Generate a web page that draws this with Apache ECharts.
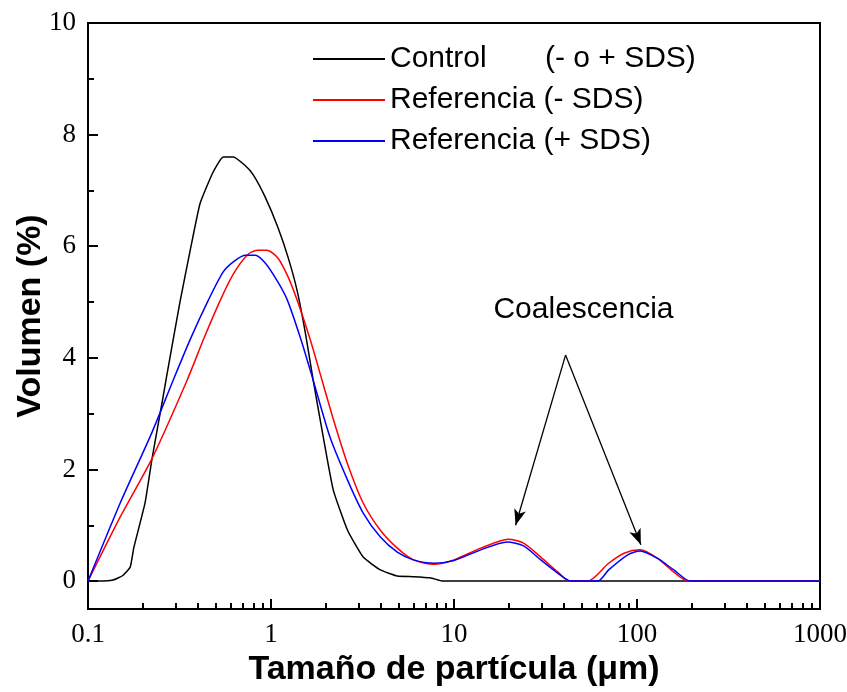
<!DOCTYPE html>
<html><head><meta charset="utf-8">
<script src="https://cdn.jsdelivr.net/npm/echarts@6/dist/echarts.min.js"></script>
<style>html,body{margin:0;padding:0;background:#fff}#c{width:847px;height:692px}</style>
</head><body><div id="c"></div><script>
// ---- Data ----
const controlX = [0.1, 0.116, 0.137, 0.155, 0.17, 0.178, 0.205, 0.224, 0.254, 0.27, 0.318, 0.362, 0.41, 0.483, 0.548, 0.622, 0.72, 0.8, 0.93, 1.09, 1.24, 1.39, 1.55, 1.7, 1.95, 2.19, 2.62, 3.19, 3.96, 4.9, 6.0, 7.4, 8.7, 1000];
const controlY = [0, 0, 0.02, 0.1, 0.25, 0.6, 1.4, 2.2, 3.2, 3.7, 5.0, 5.93, 6.77, 7.33, 7.6, 7.6, 7.45, 7.28, 6.88, 6.34, 5.8, 5.2, 4.4, 3.6, 2.5, 1.63, 0.91, 0.43, 0.2, 0.09, 0.08, 0.06, 0, 0];

const refNoSdsX = [0.1, 0.15, 0.224, 0.348, 0.43, 0.528, 0.622, 0.74, 0.84, 0.95, 1.09, 1.24, 1.39, 1.63, 1.9, 2.19, 2.62, 3.19, 3.96, 4.9, 6.0, 7.8, 10, 14, 19.8, 24, 29.8, 37, 42.6, 53.7, 70, 85, 104, 129, 159, 190, 1000];
const refNoSdsY = [0, 1.15, 2.2, 3.6, 4.35, 5.03, 5.5, 5.84, 5.93, 5.93, 5.79, 5.45, 5.03, 4.35, 3.6, 2.9, 2.1, 1.4, 0.91, 0.59, 0.38, 0.3, 0.38, 0.59, 0.75, 0.68, 0.43, 0.16, 0, 0, 0.32, 0.5, 0.56, 0.41, 0.16, 0, 0];

const refSdsX = [0.1, 0.15, 0.224, 0.292, 0.364, 0.454, 0.548, 0.622, 0.72, 0.82, 0.93, 1.09, 1.23, 1.45, 1.7, 2.1, 2.62, 3.19, 3.96, 4.9, 6.0, 7.8, 10, 14, 19.5, 24, 29.8, 37, 43.5, 61, 70, 89, 104, 129, 159, 196, 1000];
const refSdsY = [0, 1.4, 2.67, 3.6, 4.35, 5.03, 5.54, 5.72, 5.84, 5.84, 5.7, 5.36, 5.03, 4.35, 3.6, 2.58, 1.81, 1.22, 0.79, 0.52, 0.38, 0.32, 0.37, 0.56, 0.7, 0.63, 0.38, 0.14, 0, 0, 0.2, 0.47, 0.54, 0.41, 0.2, 0, 0];

const seriesNames = ['Control', 'Referencia (- SDS)', 'Referencia (+ SDS)'];
const yMajorTicks = [0, 2, 4, 6, 8, 10];
const yMinorTicks = [1, 3, 5, 7, 9];
const xMinorTicks = [0.2,0.3,0.4,0.5,0.6,0.7,0.8,0.9, 2,3,4,5,6,7,8,9, 20,30,40,50,60,70,80,90, 200,300,400,500,600,700,800,900];
const arrowFrom = [40.7, 4.05];
const arrowTips = [[21.7, 1.0], [105, 0.65]];
const annotationPos = [51, 4.86];
const annotationText = 'Coalescencia';

// ---- Chart ----
const chart = echarts.init(document.getElementById('c'));
const zip = (xs, ys) => xs.map((x, i) => [x, ys[i]]);
const serif = 'Liberation Serif';
const sans = 'Liberation Sans';
const blk = '#000';

chart.setOption({
  animation: false,
  backgroundColor: '#fff',
  grid: { left: 88, right: 27, top: 23, bottom: 83, show: true, borderColor: blk, borderWidth: 2, backgroundColor: 'transparent', containLabel: false, outerBoundsMode: 'none' },
  legend: {
    left: 308, top: 39, orient: 'vertical', itemWidth: 72, itemHeight: 2, itemGap: 11, icon: 'rect',
    data: seriesNames,
    formatter: n => n === 'Control' ? '{a|Control}{b|(- o + SDS)}' : n,
    textStyle: { fontFamily: sans, fontSize: 30, lineHeight: 29, color: blk, padding: [0,0,0,0],
      rich: { a: { width: 155, fontFamily: sans, fontSize: 30, color: blk }, b: { fontFamily: sans, fontSize: 30, color: blk } } }
  },
  xAxis: [{
    type: 'log', logBase: 10, min: 0.1, max: 1000, position: 'bottom',
    axisLine: { onZero: false, lineStyle: { color: blk, width: 2 } },
    axisTick: { inside: true, length: 10, lineStyle: { color: blk, width: 2 } },
    axisLabel: { margin: 12, fontFamily: serif, fontSize: 27, color: blk, formatter: v => String(+(+v).toPrecision(3)) },
    splitLine: { show: false },
    name: 'Tamaño de partícula (μm)', nameLocation: 'middle', nameGap: 42,
    nameTextStyle: { fontFamily: sans, fontWeight: 'bold', fontSize: 34, color: blk }
  }, {
    type: 'value', min: -1, max: 3, position: 'bottom',
    axisLine: { show: false, onZero: false },
    axisTick: { inside: true, length: 6, customValues: xMinorTicks.map(v => Math.log10(v)), lineStyle: { color: blk, width: 2 } },
    axisLabel: { show: false }, splitLine: { show: false }
  }],
  yAxis: [{
    type: 'value', min: -0.5, max: 10, position: 'left',
    axisLine: { onZero: false, lineStyle: { color: blk, width: 2 } },
    axisTick: { inside: true, length: 10, customValues: yMajorTicks, lineStyle: { color: blk, width: 2 } },
    axisLabel: { customValues: yMajorTicks, margin: 12, fontFamily: serif, fontSize: 27, color: blk },
    splitLine: { show: false },
    name: 'Volumen (%)', nameLocation: 'middle', nameGap: 40, nameMoveOverlap: false,
    nameTextStyle: { fontFamily: sans, fontWeight: 'bold', fontSize: 34, color: blk }
  }, {
    type: 'value', min: -0.5, max: 10, position: 'left', offset: 0,
    axisLine: { show: false, onZero: false },
    axisTick: { inside: true, length: 6, customValues: yMinorTicks, lineStyle: { color: blk, width: 2 } },
    axisLabel: { show: false }, splitLine: { show: false }
  }],
  series: [{
    name: seriesNames[0], type: 'line', data: zip(controlX, controlY), symbol: 'none', smooth: 0.15,
    lineStyle: { color: blk, width: 1.5 }, itemStyle: { color: blk },
    markLine: {
      silent: true, symbol: ['none', 'arrow'], symbolSize: [9, 16],
      lineStyle: { color: blk, width: 1.3, type: 'solid' }, label: { show: false },
      data: arrowTips.map(t => [{ coord: arrowFrom }, { coord: t }])
    },
    markPoint: {
      silent: true, symbol: 'circle', symbolSize: 0,
      label: { show: true, position: 'inside', formatter: annotationText, fontFamily: sans, fontSize: 30, color: blk },
      data: [{ coord: annotationPos }]
    }
  }, {
    name: seriesNames[1], type: 'line', data: zip(refNoSdsX, refNoSdsY), symbol: 'none', smooth: 0.25,
    lineStyle: { color: '#ff0000', width: 1.5 }, itemStyle: { color: '#ff0000' }
  }, {
    name: seriesNames[2], type: 'line', data: zip(refSdsX, refSdsY), symbol: 'none', smooth: 0.25,
    lineStyle: { color: '#0000ff', width: 1.5 }, itemStyle: { color: '#0000ff' }
  }]
});
</script></body></html>
